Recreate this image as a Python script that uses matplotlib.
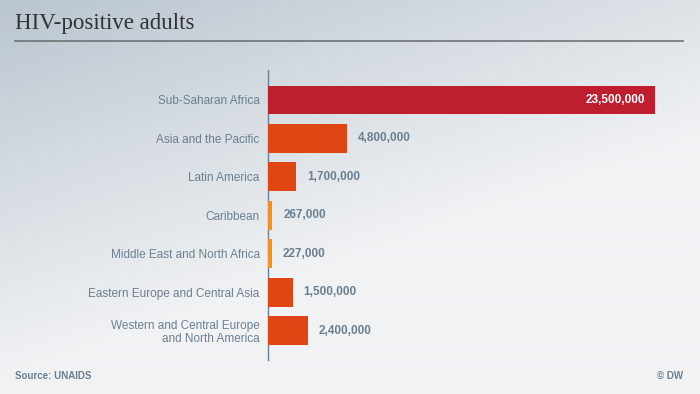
import matplotlib
matplotlib.use("Agg")
import matplotlib.pyplot as plt
import numpy as np

regions = ["Sub-Saharan Africa", "Asia and the Pacific", "Latin America", "Caribbean",
           "Middle East and North Africa", "Eastern Europe and Central Asia",
           "Western and Central Europe\nand North America"]
values = [23500000, 4800000, 1700000, 267000, 227000, 1500000, 2400000]
value_labels = ["23,500,000", "4,800,000", "1,700,000", "267,000", "227,000", "1,500,000", "2,400,000"]
bar_colors = ["#BE1E2D", "#E04614", "#E04614", "#F2921C", "#F2921C", "#E04614", "#E04614"]

W, H = 700, 394
fig = plt.figure(figsize=(7, 3.94), dpi=100)

# background gradient
bg = fig.add_axes([0, 0, 1, 1])
yy, xx = np.mgrid[0:1:200j, 0:1:350j]
t = np.clip(0.55 * xx + 0.9 * yy, 0, 1)  # yy=0 top
t = np.clip(t, 0, 0.85) / 0.85
c0 = np.array([0xBA, 0xC5, 0xCF]) / 255
c1 = np.array([0xF0, 0xF2, 0xF4]) / 255
img = c0[None, None, :] * (1 - t[..., None]) + c1[None, None, :] * t[..., None]
bg.imshow(img, aspect="auto", extent=[0, 1, 0, 1], origin="upper")
bg.set_xlim(0, 1); bg.set_ylim(0, 1)
bg.axis("off")

# title and rule
fig.text(15 / W, 1 - 23 / H, "HIV-positive adults", family="Liberation Serif", fontsize=16.5,
         color="#333333", va="center", ha="left")
bg.plot([15 / W, 683 / W], [1 - 41 / H, 1 - 41 / H], color="#6E7275", lw=1.2)

# main axes
ax_left, ax_right, ax_top, ax_bot = 268, 680, 70, 360
ax = fig.add_axes([ax_left / W, 1 - ax_bot / H, (ax_right - ax_left) / W, (ax_bot - ax_top) / H])
ax.patch.set_alpha(0)
xmax = 23500000 * (ax_right - ax_left) / (655 - ax_left)
ax.set_xlim(0, xmax)
ax.set_ylim(6.76, -0.78)
y = np.arange(len(regions))
ax.barh(y, values, height=29 / 38.5, color=bar_colors, zorder=2)
for s in ["top", "right", "bottom"]:
    ax.spines[s].set_visible(False)
ax.spines["left"].set_color("#6B7F90")
ax.spines["left"].set_linewidth(1)
ax.spines["left"].set_zorder(1)
ax.set_xticks([])
ax.set_yticks(y)
ax.set_yticklabels(regions, family="Liberation Sans", fontsize=8.5, color="#6B7F90", linespacing=1.1)
ax.tick_params(axis="y", length=0, pad=6)

px = xmax / (ax_right - ax_left)
for i, (v, lab) in enumerate(zip(values, value_labels)):
    if i == 0:
        ax.text(v - 10 * px, i, lab, ha="right", va="center", color="white",
                fontsize=8.5, fontweight="bold", family="Liberation Sans")
    else:
        ax.text(v + 11 * px, i, lab, ha="left", va="center", color="#6B7F90",
                fontsize=8.5, fontweight="bold", family="Liberation Sans")

fig.text(15 / W, 1 - 376 / H, "Source: UNAIDS", family="Liberation Sans", fontsize=7,
         fontweight="bold", color="#6B7F90", va="center", ha="left")
fig.text(683 / W, 1 - 376 / H, "© DW", family="Liberation Sans", fontsize=7,
         fontweight="bold", color="#6B7F90", va="center", ha="right")

fig.savefig("out.png", dpi=100)
